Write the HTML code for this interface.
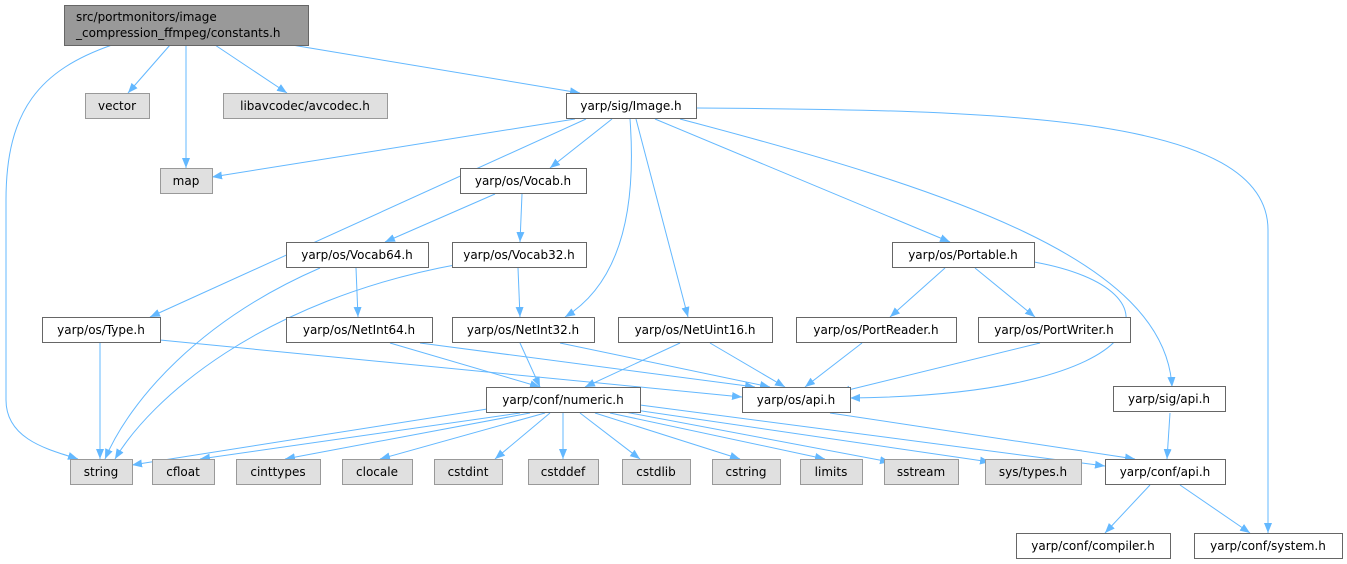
<!DOCTYPE html>
<html><head><meta charset="utf-8"><style>
html,body{margin:0;padding:0;background:#fff;}
svg{display:block;}
text{font-family:"DejaVu Sans","Liberation Sans",sans-serif;font-size:12px;fill:#000;}
.n{fill:#fff;stroke:#666;stroke-width:1;}
.g{fill:#e0e0e0;stroke:#999;stroke-width:1;}
.e{fill:none;stroke:#63b8ff;stroke-width:1;marker-end:url(#a);}
</style></head><body>
<svg width="1347" height="564" viewBox="0 0 1347 564" xmlns="http://www.w3.org/2000/svg">
<defs><marker id="a" viewBox="0 0 10 10" refX="10" refY="5" markerWidth="10" markerHeight="10" markerUnits="userSpaceOnUse" orient="auto"><path d="M0,1 L10,5 L0,9 z" fill="#63b8ff"/></marker></defs>
<g>
<path class="e" d="M112,45 C40,70 6,110 6,200 L6,400 C6,440 50,450 78,459"/>
<path class="e" d="M170,45 L128,93"/>
<path class="e" d="M186,45 L186,168"/>
<path class="e" d="M215,45 L287,93"/>
<path class="e" d="M292,45 L580,93"/>
<path class="e" d="M575,119 L212,177"/>
<path class="e" d="M612,119 L550,168"/>
<path class="e" d="M586,119 L150,317"/>
<path class="e" d="M630,119 C636,200 625,280 565,317"/>
<path class="e" d="M636,119 L688,317"/>
<path class="e" d="M655,119 L950,242"/>
<path class="e" d="M680,119 C950,190 1165,260 1172,387"/>
<path class="e" d="M696,108 C1000,110 1268,115 1268,230 L1268,533"/>
<path class="e" d="M495,194 L385,242"/>
<path class="e" d="M522,194 L520,242"/>
<path class="e" d="M320,268 C200,320 130,400 105,459"/>
<path class="e" d="M356,268 L358,317"/>
<path class="e" d="M460,264 C260,300 150,400 115,459"/>
<path class="e" d="M518,268 L520,317"/>
<path class="e" d="M945,268 L890,317"/>
<path class="e" d="M975,268 L1035,317"/>
<path class="e" d="M1034,262 C1190,290 1160,395 850,398"/>
<path class="e" d="M100,343 L100,459"/>
<path class="e" d="M160,340 L742,397"/>
<path class="e" d="M390,343 L540,387"/>
<path class="e" d="M420,343 L755,387"/>
<path class="e" d="M520,343 L540,387"/>
<path class="e" d="M560,343 L770,387"/>
<path class="e" d="M680,343 L585,387"/>
<path class="e" d="M710,343 L785,387"/>
<path class="e" d="M862,343 L805,387"/>
<path class="e" d="M1040,343 L840,392"/>
<path class="e" d="M500,407 L132,465"/>
<path class="e" d="M520,413 L200,459"/>
<path class="e" d="M530,413 L285,459"/>
<path class="e" d="M545,413 L380,459"/>
<path class="e" d="M550,413 L495,459"/>
<path class="e" d="M563,413 L563,459"/>
<path class="e" d="M580,413 L640,459"/>
<path class="e" d="M595,413 L740,459"/>
<path class="e" d="M610,413 L825,459"/>
<path class="e" d="M625,412 L890,462"/>
<path class="e" d="M635,410 L990,462"/>
<path class="e" d="M640,405 L1105,466"/>
<path class="e" d="M830,413 L1135,459"/>
<path class="e" d="M1170,413 L1167,459"/>
<path class="e" d="M1150,485 L1105,533"/>
<path class="e" d="M1180,485 L1250,533"/>
</g>
<rect x="64.5" y="5.5" width="244" height="40" fill="#999" stroke="#666"/>
<text x="76" y="21">src/portmonitors/image</text>
<text x="76" y="37">_compression_ffmpeg/constants.h</text>
<rect class="g" x="85.5" y="93.5" width="64" height="25"/><text x="117" y="110" text-anchor="middle">vector</text>
<rect class="g" x="223.5" y="93.5" width="164" height="25"/><text x="305" y="110" text-anchor="middle">libavcodec/avcodec.h</text>
<rect class="n" x="566.5" y="93.5" width="130" height="25"/><text x="631" y="110" text-anchor="middle">yarp/sig/Image.h</text>
<rect class="g" x="160.5" y="168.5" width="52" height="25"/><text x="186" y="185" text-anchor="middle">map</text>
<rect class="n" x="460.5" y="168.5" width="126" height="25"/><text x="523" y="185" text-anchor="middle">yarp/os/Vocab.h</text>
<rect class="n" x="286.5" y="242.5" width="142" height="25"/><text x="357" y="259" text-anchor="middle">yarp/os/Vocab64.h</text>
<rect class="n" x="452.5" y="242.5" width="134" height="25"/><text x="519" y="259" text-anchor="middle">yarp/os/Vocab32.h</text>
<rect class="n" x="892.5" y="242.5" width="142" height="25"/><text x="963" y="259" text-anchor="middle">yarp/os/Portable.h</text>
<rect class="n" x="42.5" y="317.5" width="118" height="25"/><text x="101" y="334" text-anchor="middle">yarp/os/Type.h</text>
<rect class="n" x="286.5" y="317.5" width="146" height="25"/><text x="359" y="334" text-anchor="middle">yarp/os/NetInt64.h</text>
<rect class="n" x="452.5" y="317.5" width="142" height="25"/><text x="523" y="334" text-anchor="middle">yarp/os/NetInt32.h</text>
<rect class="n" x="618.5" y="317.5" width="154" height="25"/><text x="695" y="334" text-anchor="middle">yarp/os/NetUint16.h</text>
<rect class="n" x="796.5" y="317.5" width="160" height="25"/><text x="876" y="334" text-anchor="middle">yarp/os/PortReader.h</text>
<rect class="n" x="978.5" y="317.5" width="152" height="25"/><text x="1054" y="334" text-anchor="middle">yarp/os/PortWriter.h</text>
<rect class="n" x="486.5" y="387.5" width="154" height="25"/><text x="563" y="404" text-anchor="middle">yarp/conf/numeric.h</text>
<rect class="n" x="742.5" y="387.5" width="108" height="25"/><text x="796" y="404" text-anchor="middle">yarp/os/api.h</text>
<rect class="n" x="1113.5" y="386.5" width="112" height="25"/><text x="1169" y="403" text-anchor="middle">yarp/sig/api.h</text>
<rect class="g" x="70.5" y="459.5" width="62" height="25"/><text x="101" y="476" text-anchor="middle">string</text>
<rect class="g" x="152.5" y="459.5" width="62" height="25"/><text x="183" y="476" text-anchor="middle">cfloat</text>
<rect class="g" x="236.5" y="459.5" width="84" height="25"/><text x="278" y="476" text-anchor="middle">cinttypes</text>
<rect class="g" x="342.5" y="459.5" width="70" height="25"/><text x="377" y="476" text-anchor="middle">clocale</text>
<rect class="g" x="434.5" y="459.5" width="68" height="25"/><text x="468" y="476" text-anchor="middle">cstdint</text>
<rect class="g" x="528.5" y="459.5" width="70" height="25"/><text x="563" y="476" text-anchor="middle">cstddef</text>
<rect class="g" x="622.5" y="459.5" width="68" height="25"/><text x="656" y="476" text-anchor="middle">cstdlib</text>
<rect class="g" x="712.5" y="459.5" width="68" height="25"/><text x="746" y="476" text-anchor="middle">cstring</text>
<rect class="g" x="800.5" y="459.5" width="62" height="25"/><text x="831" y="476" text-anchor="middle">limits</text>
<rect class="g" x="884.5" y="459.5" width="74" height="25"/><text x="921" y="476" text-anchor="middle">sstream</text>
<rect class="g" x="985.5" y="459.5" width="96" height="25"/><text x="1033" y="476" text-anchor="middle">sys/types.h</text>
<rect class="n" x="1105.5" y="459.5" width="120" height="25"/><text x="1165" y="476" text-anchor="middle">yarp/conf/api.h</text>
<rect class="n" x="1016.5" y="533.5" width="154" height="25"/><text x="1093" y="550" text-anchor="middle">yarp/conf/compiler.h</text>
<rect class="n" x="1194.5" y="533.5" width="148" height="25"/><text x="1268" y="550" text-anchor="middle">yarp/conf/system.h</text>
</svg>
</body></html>
